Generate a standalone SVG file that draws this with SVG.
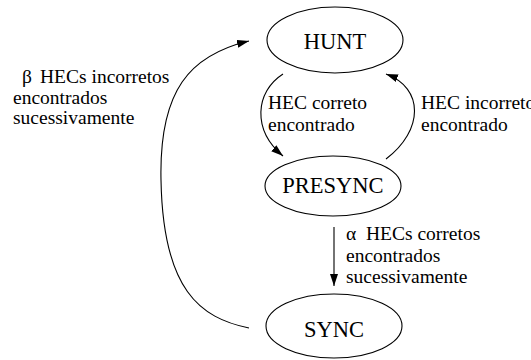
<svg xmlns="http://www.w3.org/2000/svg" width="531" height="360" viewBox="0 0 531 360">
  <defs>
    <marker id="head" markerUnits="userSpaceOnUse" markerWidth="13" markerHeight="9" refX="12" refY="4" orient="auto">
      <path d="M0,0 L12,4 L0,8 z" fill="#000"/>
    </marker>
  </defs>

  <g id="connectors" fill="none" stroke="#000" stroke-width="1.1" marker-end="url(#head)">
    <!-- SYNC back to HUNT -->
    <path d="M249,328 C200,318 163,290 161,180 C159,90 190,55 249,41"/>
    <!-- HUNT to PRESYNC -->
    <path d="M283,74 C255,92 252,130 283,156"/>
    <!-- PRESYNC to HUNT -->
    <path d="M386,159 C424,130 424,88 386,74"/>
    <!-- PRESYNC to SYNC -->
    <path d="M334,227 L334,286"/>
  </g>

  <g id="labels">
    <text font-family="'Liberation Serif', 'Times New Roman', serif" font-size="19.5"><tspan x="22" y="83">β</tspan><tspan x="40" y="83">HECs incorretos</tspan><tspan x="13" y="103.5">encontrados</tspan><tspan x="13" y="124">sucessivamente</tspan></text>
    <text font-family="'Liberation Serif', 'Times New Roman', serif" font-size="19.5"><tspan x="268" y="109">HEC correto</tspan><tspan x="268" y="131">encontrado</tspan></text>
    <text font-family="'Liberation Serif', 'Times New Roman', serif" font-size="19.5"><tspan x="421" y="109">HEC incorreto</tspan><tspan x="421" y="131">encontrado</tspan></text>
    <text font-family="'Liberation Serif', 'Times New Roman', serif" font-size="19.5"><tspan x="346" y="240">α</tspan><tspan x="366" y="240">HECs corretos</tspan><tspan x="346" y="261.5">encontrados</tspan><tspan x="346" y="283">sucessivamente</tspan></text>
  </g>

  <g id="hunt">
    <ellipse cx="335" cy="40" rx="68" ry="33" fill="#fff" stroke="#000" stroke-width="1.1"/>
    <text x="335" y="49" font-family="'Liberation Serif', 'Times New Roman', serif" font-size="22.5" text-anchor="middle">HUNT</text>
  </g>
  <g id="presync">
    <ellipse cx="333" cy="186" rx="68" ry="30" fill="#fff" stroke="#000" stroke-width="1.1"/>
    <text x="333" y="193" font-family="'Liberation Serif', 'Times New Roman', serif" font-size="22.5" text-anchor="middle">PRESYNC</text>
  </g>
  <g id="sync">
    <ellipse cx="334" cy="326" rx="68" ry="32" fill="#fff" stroke="#000" stroke-width="1.1"/>
    <text x="334" y="337" font-family="'Liberation Serif', 'Times New Roman', serif" font-size="22.5" text-anchor="middle">SYNC</text>
  </g>
</svg>
